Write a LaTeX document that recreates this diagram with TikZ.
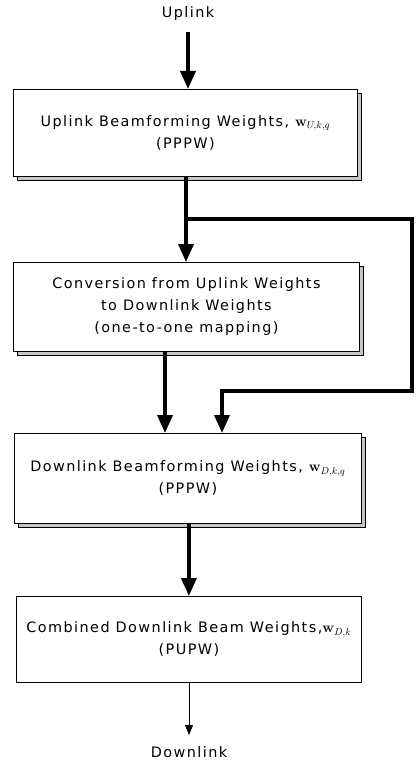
\documentclass[tikz,border=0pt]{standalone}
\usepackage[no-math]{fontspec}
\usepackage{amsmath}
\usepackage{amssymb}
\usepackage{bm}
\setmainfont[LetterSpace=10]{DejaVu Sans}
\usetikzlibrary{arrows.meta}
\usetikzlibrary{shadows}
\usetikzlibrary{positioning}

\begin{document}
\begin{tikzpicture}[x=1pt,y=-1pt,
    stagebox/.style={anchor=north west,draw,line width=0.8pt,fill=white,align=center,
        font=\fontsize{14.4}{22}\selectfont},
    shadowed/.style={copy shadow={shadow xshift=4pt,shadow yshift=-4pt,fill=gray!45,draw,line width=0.5pt}},
    flow/.style={line width=3.6pt,line join=miter,-{Triangle[length=18pt,width=15pt]}},
    thinflow/.style={line width=1pt,-{Triangle[length=10pt,width=8pt]}},
    linklabel/.style={font=\fontsize{14.4}{16}\selectfont}]
    \useasboundingbox (0,0) rectangle (416,762);

    \node[linklabel] (uplink) at (188,14) {Uplink};

    \node[stagebox,shadowed,minimum width=344pt,minimum height=87pt] (ulw) at (13,89)
        {Uplink Beamforming Weights, $\mathbf{w}_{U,k,q}$\\(PPPW)};
    \node[stagebox,shadowed,minimum width=346pt,minimum height=89pt] (conv) at (13,262)
        {Conversion from Uplink Weights\\to Downlink Weights\\(one-to-one mapping)};
    \node[stagebox,shadowed,minimum width=347pt,minimum height=90pt] (dlw) at (14,433)
        {Downlink Beamforming Weights, $\mathbf{w}_{D,k,q}$\\(PPPW)};
    \node[stagebox,minimum width=345pt,minimum height=86pt] (comb) at (16,596)
        {Combined Downlink Beam Weights,$\mathbf{w}_{D,k}$\\(PUPW)};

    \node[linklabel] (downlink) at (189,752) {Downlink};

    % bypass path round the conversion stage
    \coordinate (split) at (186,219);
    \coordinate (bypassR) at (412,219);
    \coordinate (bypassB) at (412,391);
    \coordinate (bypassL) at (222,391);
    \coordinate (convout) at (165,351);

    \draw[flow] (uplink.south |- 0,32) -- (ulw.north -| uplink.south);
    \draw[flow] (ulw.south -| split) -- (conv.north -| split);
    \draw[flow] (split) -- (bypassR) -- (bypassB) -- (bypassL) -- (dlw.north -| bypassL);
    \draw[flow] (convout) -- (dlw.north -| convout);
    \draw[flow] (dlw.south -| comb.north) -- (comb.north);
    \draw[thinflow] (comb.south -| downlink.north) -- (downlink.north |- 0,735);
\end{tikzpicture}
\end{document}
